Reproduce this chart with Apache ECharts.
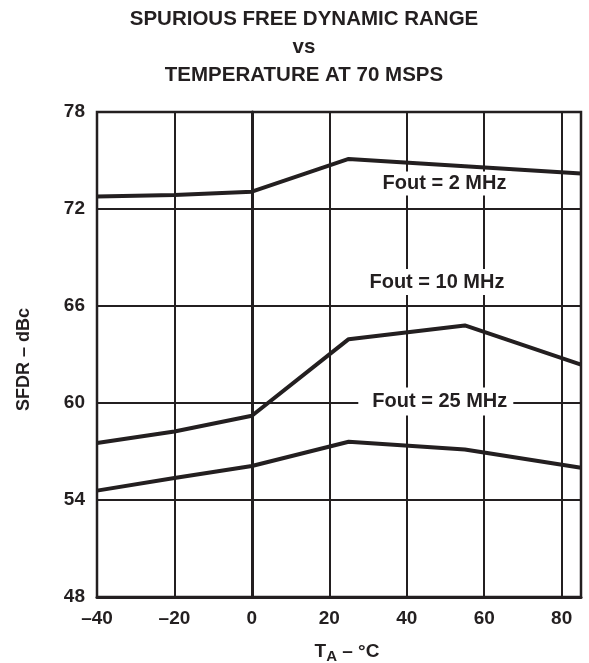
<!DOCTYPE html>
<html>
<head>
<meta charset="utf-8">
<script src="https://cdn.jsdelivr.net/npm/echarts@6/dist/echarts.min.js"></script>
<style>html,body{margin:0;padding:0;background:#fff}#c{width:589px;height:663px}</style>
</head>
<body>
<div id="c"></div>
<script>
var temps = [-40, -20, 0, 25, 55, 85];
var sfdr2MHz = [72.78, 72.87, 73.07, 75.1, 74.65, 74.2];
var sfdr10MHz = [57.53, 58.24, 59.21, 63.95, 64.8, 62.37];
var sfdr25MHz = [54.58, 55.36, 56.1, 57.6, 57.12, 56.0];
var seriesNames = ['Fout = 2 MHz', 'Fout = 10 MHz', 'Fout = 25 MHz'];
var labelPos = [[49.75, 73.58], [47.8, 67.48], [47.5, 60.1]];
var xTicks = [-40, -20, 0, 20, 40, 60, 80];
var yTicks = [48, 54, 60, 66, 72, 78];

var ink = '#231f20';
var font = 'Liberation Sans, Arial, Helvetica, sans-serif';
function pairs(xs, ys){ return xs.map(function(x,i){ return [x, ys[i]]; }); }
function lineSeries(name, ys){
  return { name: name, type: 'line', data: pairs(temps, ys), symbol: 'none',
    lineStyle: { color: ink, width: 4 }, z: 3, silent: true };
}
var labelPads = [[2, 5, 2, 5], [3, 5, 3, 5], [4, 6, 4, 14]];
var chart = echarts.init(document.getElementById('c'));
chart.setOption({
  animation: false,
  backgroundColor: '#fff',
  title: {
    text: 'SPURIOUS FREE DYNAMIC RANGE\nvs\nTEMPERATURE AT 70 MSPS',
    left: 299, top: 0, textAlign: 'center',
    textStyle: { fontFamily: font, fontWeight: 'bold', fontSize: 20.5, lineHeight: 28, color: ink }
  },
  grid: { left: 97, right: 8, top: 112, bottom: 66, outerBoundsMode: 'none', containLabel: false,
    show: true, borderColor: ink, borderWidth: 2.5, backgroundColor: 'transparent' },
  xAxis: {
    type: 'value', min: -40, max: 85, interval: 20,
    axisLine: { show: true, lineStyle: { color: ink, width: 3 } },
    axisTick: { show: false },
    splitLine: { show: true, lineStyle: { color: ink, width: 2 } },
    axisLabel: { showMaxLabel: false, margin: 12, color: ink, fontFamily: font, fontWeight: 'bold', fontSize: 19,
      formatter: function(v){ return String(v).replace('-', '\u2013'); } },
    name: '{t|T}{s|A}{t| \u2013 \u00b0C}', nameLocation: 'middle', nameGap: 42,
    nameTextStyle: { padding: [0,0,0,16], rich: {
      t: { fontFamily: font, fontWeight: 'bold', fontSize: 19, color: ink },
      s: { fontFamily: font, fontWeight: 'bold', fontSize: 15, color: ink, padding: [10,0,0,0] }
    } }
  },
  yAxis: {
    type: 'value', min: 48, max: 78, interval: 6,
    axisLine: { show: true, lineStyle: { color: ink, width: 3 } },
    axisTick: { show: false },
    splitLine: { show: true, lineStyle: { color: ink, width: 2 } },
    axisLabel: { margin: 12, color: ink, fontFamily: font, fontWeight: 'bold', fontSize: 19 },
    name: 'SFDR \u2013 dBc', nameLocation: 'middle', nameGap: 64,
    nameTextStyle: { fontFamily: font, fontWeight: 'bold', fontSize: 18, color: ink, padding: [0, 10, 0, 0] }
  },
  series: [
    lineSeries(seriesNames[0], sfdr2MHz),
    lineSeries(seriesNames[1], sfdr10MHz),
    lineSeries(seriesNames[2], sfdr25MHz),
    { type: 'scatter', symbolSize: 0, silent: true, z: 4, itemStyle: { opacity: 1 },
      data: labelPos.map(function(p, i){ return { value: p, name: seriesNames[i], label: { padding: labelPads[i] } }; }),
      label: { show: true, position: 'inside', formatter: '{b}', color: ink, opacity: 1, textBorderWidth: 0,
        fontFamily: font, fontWeight: 'bold', fontSize: 20, backgroundColor: '#fff' } }
  ]
});
</script>
</body>
</html>
